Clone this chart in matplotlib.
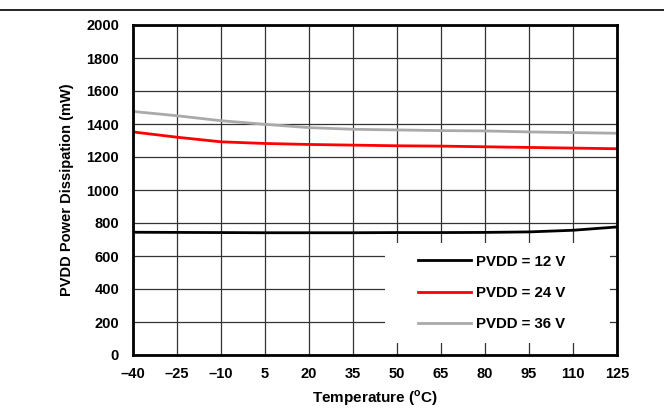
import matplotlib
matplotlib.use('Agg')
import matplotlib.pyplot as plt
from matplotlib.lines import Line2D
from matplotlib.patches import Rectangle

# temperatures (C)
temps = [-40, -25, -10, 5, 20, 35, 50, 65, 80, 95, 110, 125]
# power dissipation (mW)
pvdd_12 = [744, 743, 742, 741, 741, 741, 742, 742, 743, 746, 756, 776]
pvdd_24 = [1352, 1320, 1292, 1282, 1276, 1272, 1268, 1266, 1262, 1258, 1254, 1250]
pvdd_36 = [1476, 1450, 1420, 1398, 1378, 1368, 1364, 1360, 1358, 1352, 1348, 1344]

x_ticks = temps
x_labels = ['\u201340', '\u201325', '\u201310', '5', '20', '35', '50', '65', '80', '95', '110', '125']
y_ticks = list(range(0, 2001, 200))

plt.rcParams['font.family'] = ['Liberation Sans', 'DejaVu Sans']
plt.rcParams['font.weight'] = 'bold'
plt.rcParams['mathtext.fontset'] = 'custom'
plt.rcParams['mathtext.bf'] = 'Liberation Sans:bold'

fig = plt.figure(figsize=(6.64, 4.08), dpi=100)
ax = fig.add_axes([133 / 664, 53 / 408, 484 / 664, 330 / 408])

ax.plot(temps, pvdd_12, color='black', lw=2, label='PVDD = 12 V', zorder=3)
ax.plot(temps, pvdd_24, color='#ff0000', lw=2, label='PVDD = 24 V', zorder=3)
ax.plot(temps, pvdd_36, color='#aaaaaa', lw=2, label='PVDD = 36 V', zorder=3)

ax.set_xlim(-40, 125)
ax.set_ylim(0, 2000)
ax.set_xticks(x_ticks)
ax.set_xticklabels(x_labels)
ax.set_yticks(y_ticks)
ax.tick_params(length=0, labelsize=10.5)
ax.tick_params(axis='x', pad=9)
ax.tick_params(axis='y', pad=10)
for lbl in ax.get_xticklabels() + ax.get_yticklabels():
    lbl.set_fontweight('bold')
ax.grid(True, color='#333333', lw=0.9)
ax.set_axisbelow(True)
for s in ax.spines.values():
    s.set_linewidth(2)
    s.set_zorder(4)

ax.set_xlabel(r'Temperature ($^{\mathbf{o}}$C)', fontsize=11, fontweight='bold', labelpad=5)
ax.set_ylabel('PVDD Power Dissipation (mW)', fontsize=10.5, fontweight='bold', labelpad=9)

# white box behind the legend hides the grid there
ax.add_patch(Rectangle((0.52, 0.036), 0.465, 0.304, transform=ax.transAxes,
                       facecolor='white', edgecolor='none', zorder=1.5))
leg = ax.legend(loc='center left', bbox_to_anchor=(0.589, 0.188), frameon=False,
                fontsize=10.8, handlelength=3.5, labelspacing=1.15, borderpad=0,
                handletextpad=0.35, borderaxespad=0)
for t in leg.get_texts():
    t.set_fontweight('bold')

# rule under the cut-off title
fig.add_artist(Line2D([0, 1], [1 - 10 / 408, 1 - 10 / 408], color='black', lw=1.2))

fig.savefig('out.png', dpi=100)
